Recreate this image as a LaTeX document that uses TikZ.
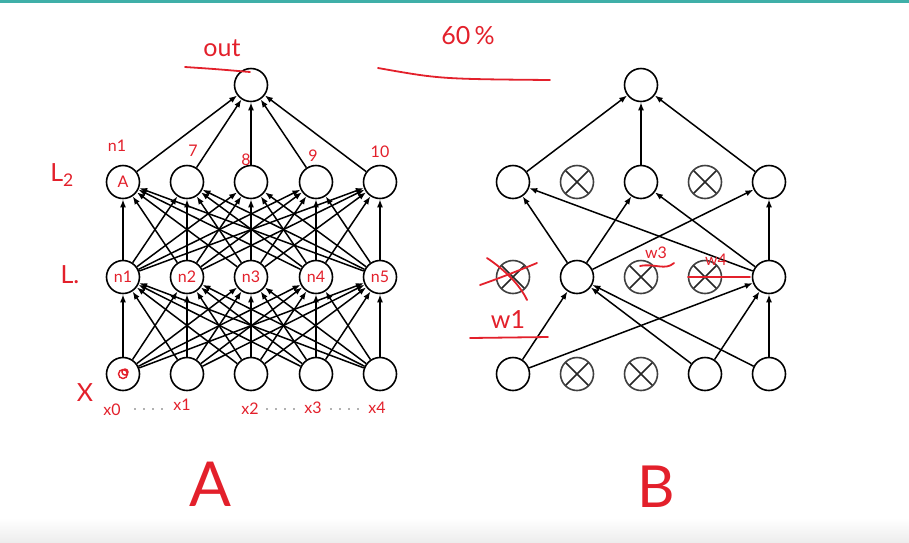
\documentclass[tikz,border=0pt]{standalone}
\usepackage{fontspec}
\setsansfont{Lato}
\usetikzlibrary{arrows.meta,calc}
\definecolor{ink}{HTML}{E3202B}
\definecolor{band}{HTML}{3FAFA8}
\begin{document}
\begin{tikzpicture}[x=1pt,y=-1pt,
  neuron/.style={circle,draw,line width=1.6pt,minimum size=33pt,inner sep=0pt},
  dropped/.style={neuron,draw=black!75,
    path picture={\draw[line width=1.6pt,black!85]
      (path picture bounding box.south west) -- (path picture bounding box.north east)
      (path picture bounding box.north west) -- (path picture bounding box.south east);}},
  wire/.style={line width=1.5pt,-{Latex[length=8pt,width=6pt]}},
  hand/.style={ink,font=\sffamily\fontsize{25}{25}\selectfont,inner sep=0pt},
  small hand/.style={ink,font=\sffamily\fontsize{16}{16}\selectfont,inner sep=0pt},
  stroke/.style={ink,line width=1.8pt,line cap=round}]

% page
\useasboundingbox (0,0) rectangle (909,542);
\fill[white] (0,0) rectangle (909,542);
\fill[band] (0,0) rectangle (909,3);
\shade[top color=white,bottom color=black!7] (0,518) rectangle (909,542);

% ---------- network A: fully connected ----------
\foreach \i/\x in {1/123,2/187,3/251,4/316,5/380}{
  \node[neuron] (a0\i) at (\x,374) {};
  \node[neuron] (a1\i) at (\x,277) {};
  \node[neuron] (a2\i) at (\x,182) {};
}
\node[neuron] (aout) at (251,85) {};
\foreach \i in {1,...,5}{
  \foreach \j in {1,...,5}{
    \draw[wire] (a0\i) -- (a1\j);
    \draw[wire] (a1\i) -- (a2\j);
  }
  \draw[wire] (a2\i) -- (aout);
}

% ---------- network B: after dropout ----------
\node[neuron]  (b21) at (513,182) {};
\node[dropped] (b22) at (577,182) {};
\node[neuron]  (b23) at (641,182) {};
\node[dropped] (b24) at (705,182) {};
\node[neuron]  (b25) at (769,182) {};
\node[dropped] (b11) at (513,277) {};
\node[neuron]  (b12) at (577,277) {};
\node[dropped] (b13) at (641,277) {};
\node[dropped] (b14) at (705,277) {};
\node[neuron]  (b15) at (769,277) {};
\node[neuron]  (b01) at (513,374) {};
\node[dropped] (b02) at (577,374) {};
\node[dropped] (b03) at (641,374) {};
\node[neuron]  (b04) at (705,374) {};
\node[neuron]  (b05) at (769,374) {};
\node[neuron]  (bout) at (641,85) {};
\foreach \i in {1,4,5}{
  \foreach \j in {2,5}{\draw[wire] (b0\i) -- (b1\j);}
}
\foreach \i in {2,5}{
  \foreach \j in {1,3,5}{\draw[wire] (b1\i) -- (b2\j);}
}
\foreach \j in {1,3,5}{\draw[wire] (b2\j) -- (bout);}

% ---------- red notes ----------
\node[hand] (tout) at (222,48) {out};
\draw[stroke] (185,67) .. controls (215,69) .. (250,72);
\node[hand] (tpct) at (468,36) {60\,\%};
\draw[stroke] (378,68) .. controls (440,79) .. (550,80);

\node[small hand] (tn1) at (117,146) {n1};
\node[small hand] (t7) at (193,151) {7};
\node[small hand] (t8) at (246,160) {8};
\node[small hand] (t9) at (313,156) {9};
\node[small hand] (t10) at (380,152) {10};
\node[hand] (tL2) at (62,175) {L\textsubscript{2}};
\node[hand] (tL1) at (70,275) {L.};
\node[small hand] at (a21) {A};
\node[small hand] at (a11) {n1};
\node[small hand] at (a12) {n2};
\node[small hand] at (a13) {n3};
\node[small hand] at (a14) {n4};
\node[small hand] at (a15) {n5};
\draw[ink,line width=1.4pt] (a01) circle (4.5pt) ($(a01)+(2,-2)$) circle (3pt);

\node[hand] (tX) at (85,393) {X};
\node[small hand] (tx0) at (112,410) {x0};
\node[small hand] (tx1) at (182,405) {x1};
\node[small hand] (tx2) at (250,409) {x2};
\node[small hand] (tx3) at (313,408) {x3};
\node[small hand] (tx4) at (377,408) {x4};
\draw[black!30,line width=1.2pt,dash pattern=on 2pt off 7pt] (134,409) -- (166,409);
\draw[black!30,line width=1.2pt,dash pattern=on 2pt off 7pt] (266,409) -- (298,409);
\draw[black!30,line width=1.2pt,dash pattern=on 2pt off 7pt] (330,409) -- (360,409);

\draw[stroke] (487,258) .. controls (505,270) and (520,285) .. (527,300);
\draw[stroke] (480,285) .. controls (500,278) and (520,270) .. (537,263);
\node[hand] (tw1) at (508,320) {w1};
\draw[stroke] (470,338) -- (548,337);
\node[small hand] (tw3) at (656,253) {w3};
\draw[stroke] (640,266) .. controls (655,263) and (665,271) .. (674,263);
\node[small hand] (tw4) at (716,260) {w4};
\draw[stroke] (688,277) -- (750,277);

\node[ink,font=\sffamily\fontsize{62}{62}\selectfont,inner sep=0pt] (tA) at (210,484) {A};
\node[ink,font=\sffamily\fontsize{58}{58}\selectfont,inner sep=0pt] (tB) at (656,487) {B};
\end{tikzpicture}
\end{document}
